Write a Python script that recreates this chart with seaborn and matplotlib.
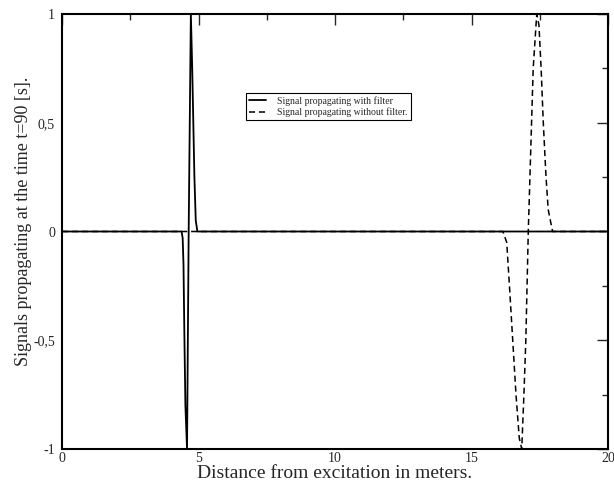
import pandas as pd
import matplotlib.pyplot as plt
import seaborn as sns

# --- datos ---
x_filtro = [0.0, 4.38, 4.42, 4.45, 4.48, 4.52, 4.58, 4.64, 4.72, 4.77, 4.81, 4.85, 4.90, 4.96, 20.0]
y_filtro = [0.0, 0.0, -0.03, -0.15, -0.45, -0.8, -1.0, 0.0, 1.0, 0.75, 0.5, 0.25, 0.05, 0.0, 0.0]

x_sin = [0.0, 16.15, 16.29, 16.39, 16.51, 16.63, 16.75, 16.84, 16.92, 16.99, 17.08,
         17.20, 17.26, 17.39, 17.47, 17.55, 17.63, 17.73, 17.81, 17.97, 20.0]
y_sin = [0.0, 0.0, -0.05, -0.25, -0.5, -0.75, -0.95, -1.0, -0.75, -0.5, 0.0,
         0.5, 0.75, 1.0, 0.95, 0.75, 0.5, 0.25, 0.1, 0.0, 0.0]

xticks = [0, 5, 10, 15, 20]
yticks = [-1, -0.5, 0, 0.5, 1]
ytick_labels = ['-1', '-0,5', '0', '0,5', '1']

df_filtro = pd.DataFrame({'x': x_filtro, 'y': y_filtro})
df_sin = pd.DataFrame({'x': x_sin, 'y': y_sin})

sns.set_style('white')
plt.rcParams['font.family'] = ['Liberation Serif', 'DejaVu Serif']

fig = plt.figure(figsize=(6.14, 4.86), dpi=100)
ax = fig.add_axes([62 / 614, 37 / 486, 546 / 614, 435 / 486])

sns.lineplot(data=df_sin, x='x', y='y', ax=ax, color='black', lw=1.1,
             linestyle=(0, (4, 2.5)), sort=False, estimator=None,
             label='Signal propagating without filter.')
sns.lineplot(data=df_filtro, x='x', y='y', ax=ax, color='black', lw=1.3,
             sort=False, estimator=None, label='Signal propagating with filter')

ax.set_xlim(0, 20)
ax.set_ylim(-1, 1)
ax.set_xticks(xticks)
ax.set_xticklabels([str(t) for t in xticks])
ax.set_yticks(yticks)
ax.set_yticklabels(ytick_labels)
ax.set_xticks([2.5, 7.5, 12.5, 17.5], minor=True)
ax.set_yticks([-0.75, -0.25, 0.25, 0.75], minor=True)
ax.tick_params(which='both', direction='in', top=True, right=True, labelsize=10)
ax.tick_params(axis='x', pad=2)
ax.tick_params(axis='y', pad=5)
ax.tick_params(which='major', length=8, width=1)
ax.tick_params(which='minor', length=4, width=1)

for s in ax.spines.values():
    s.set_color('black')
    s.set_linewidth(1.5)

ax.set_xlabel('Distance from excitation in meters.', fontsize=14, labelpad=0)
ax.set_ylabel('Signals propagating at the time t=90 [s].', fontsize=13)
ax.yaxis.set_label_coords(-0.055, 0.524)

# --- leyenda en el orden original ---
h, l = ax.get_legend_handles_labels()
ax.legend(h[::-1], l[::-1], loc='upper left', bbox_to_anchor=(0.337, 0.818),
          borderaxespad=0, fontsize=7, frameon=True, fancybox=False, edgecolor='black',
          framealpha=1, handlelength=1.8, borderpad=0.3, labelspacing=0.2,
          handletextpad=1.1).get_frame().set_linewidth(0.8)

plt.savefig('out.png', dpi=100)
